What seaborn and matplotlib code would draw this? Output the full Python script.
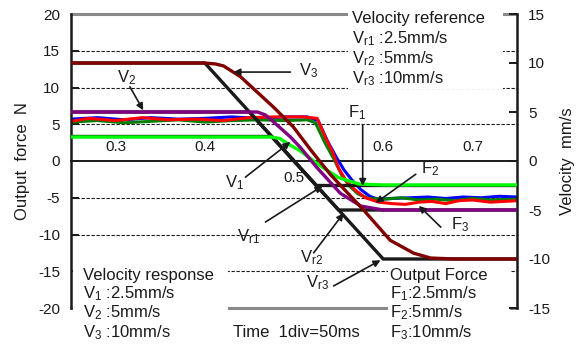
import matplotlib
matplotlib.use("Agg")
import matplotlib.pyplot as plt
import seaborn as sns
from matplotlib.patches import Rectangle

# ---------------------------------------------------------------
# Data
# ---------------------------------------------------------------
# velocity references (mm/s)
t_vr1 = [0.25, 0.475, 0.525, 0.75]
v_vr1 = [2.5, 2.5, -2.5, -2.5]
t_vr2 = [0.25, 0.45, 0.55, 0.75]
v_vr2 = [5.0, 5.0, -5.0, -5.0]
t_vr3 = [0.25, 0.40, 0.60, 0.75]
v_vr3 = [10.0, 10.0, -10.0, -10.0]

# velocity responses (mm/s)
t_v1 = [0.25, 0.474, 0.484, 0.494, 0.506, 0.528, 0.55, 0.573, 0.60, 0.75]
v_v1 = [2.45, 2.45, 2.3, 1.7, 1.1, -0.4, -1.7, -2.35, -2.45, -2.45]
t_v2 = [0.25, 0.459, 0.468, 0.477, 0.496, 0.507, 0.525, 0.552, 0.575, 0.60, 0.75]
v_v2 = [5.0, 5.0, 4.7, 4.0, 2.45, 1.4, -0.6, -3.3, -4.6, -5.0, -5.0]
t_v3 = [0.25, 0.40, 0.412, 0.421, 0.44, 0.477, 0.499, 0.519, 0.541, 0.578,
        0.608, 0.634, 0.653, 0.68, 0.75]
v_v3 = [10.0, 10.0, 9.9, 9.7, 8.6, 5.5, 3.5, 1.1, -1.4, -5.0,
        -8.1, -9.4, -9.9, -10.0, -10.0]

# output force (N)
t_f1 = [0.25, 0.28, 0.31, 0.34, 0.37, 0.40, 0.43, 0.46, 0.49, 0.515, 0.527,
        0.538, 0.548, 0.556, 0.565, 0.575, 0.585, 0.594, 0.61, 0.63, 0.65,
        0.67, 0.69, 0.71, 0.73, 0.75]
f_f1 = [5.7, 5.9, 5.6, 5.9, 5.7, 5.8, 6.0, 5.8, 6.0, 6.0, 5.5,
        2.6, 0.4, -1.2, -2.6, -3.9, -4.8, -5.2, -5.1, -5.0, -4.9,
        -5.1, -4.9, -5.0, -4.8, -4.9]
t_f2 = [0.25, 0.28, 0.31, 0.34, 0.37, 0.40, 0.43, 0.46, 0.49, 0.515, 0.524,
        0.535, 0.545, 0.553, 0.562, 0.572, 0.584, 0.60, 0.62, 0.64, 0.66,
        0.68, 0.70, 0.72, 0.75]
f_f2 = [5.3, 5.5, 5.2, 5.4, 5.6, 5.3, 5.5, 5.6, 5.5, 5.6, 5.2,
        2.4, 0.2, -1.8, -3.4, -4.5, -5.1, -5.2, -5.0, -5.3, -5.2,
        -5.4, -5.1, -5.3, -5.2]
t_f3 = [0.25, 0.27, 0.30, 0.33, 0.36, 0.39, 0.42, 0.45, 0.48, 0.51, 0.526,
        0.536, 0.544, 0.55, 0.558, 0.568, 0.58, 0.595, 0.61, 0.625, 0.64,
        0.655, 0.67, 0.685, 0.70, 0.72, 0.75]
f_f3 = [5.4, 5.8, 5.5, 5.9, 5.6, 5.7, 5.5, 5.9, 6.0, 6.0, 5.8,
        3.0, 1.0, -1.0, -2.6, -3.9, -5.0, -5.6, -5.8, -5.9, -5.6,
        -5.5, -5.8, -5.4, -5.3, -5.6, -5.4]

force_ticks = [-20, -15, -10, -5, 0, 5, 10, 15, 20]
vel_ticks = [-15, -10, -5, 0, 5, 10, 15]
time_ticks = [0.25, 0.30, 0.35, 0.40, 0.45, 0.50, 0.55, 0.60, 0.65, 0.70, 0.75]
time_labels = ["0.3", "0.4", "0.5", "0.6", "0.7"]
grid_levels = [-15, -10, -5, 5, 10, 15]

# ---------------------------------------------------------------
sns.set_theme(style="white")
plt.rcParams["font.family"] = ["Liberation Sans", "DejaVu Sans"]
plt.rcParams["mathtext.fontset"] = "custom"
plt.rcParams["mathtext.rm"] = "Liberation Sans"
plt.rcParams["mathtext.it"] = "Liberation Sans:italic"
plt.rcParams["axes.unicode_minus"] = False

fig = plt.figure(figsize=(5.81, 3.45), dpi=100)
ax = fig.add_axes([71 / 581, 1 - 308 / 345, 446 / 581, 294 / 345])
ax2 = ax.twinx()

ax.set_xlim(0.25, 0.75)
ax.set_ylim(-20, 20)
ax2.set_ylim(-15, 15)

# grid / frame lines
for lv in grid_levels:
    ax.axhline(lv, color="k", lw=0.8, ls=(0, (3, 1.5)), zorder=1)
ax.axhline(20, color="#8a8a8a", lw=2.2, zorder=1.5, clip_on=False)
ax.axhline(-20, color="#8a8a8a", lw=2.2, zorder=1.5, clip_on=False)

# output force curves (left axis)
sns.lineplot(x=t_f1, y=f_f1, ax=ax, color="#0000ff", lw=2.2, sort=False, zorder=3)
sns.lineplot(x=t_f2, y=f_f2, ax=ax, color="#008000", lw=2.2, sort=False, zorder=3)
sns.lineplot(x=t_f3, y=f_f3, ax=ax, color="#ff0000", lw=2.2, sort=False, zorder=3)

# velocity references and responses (right axis)
for tt, vv in [(t_vr1, v_vr1), (t_vr2, v_vr2), (t_vr3, v_vr3)]:
    sns.lineplot(x=tt, y=vv, ax=ax2, color="k", lw=2.4, sort=False, zorder=2)
sns.lineplot(x=t_v1, y=v_v1, ax=ax2, color="#00ff00", lw=2.4, sort=False, zorder=3)
sns.lineplot(x=t_v2, y=v_v2, ax=ax2, color="#800080", lw=2.4, sort=False, zorder=3)
sns.lineplot(x=t_v3, y=v_v3, ax=ax2, color="#800000", lw=2.4, sort=False, zorder=3)

# spines and ticks
ax.spines["top"].set_visible(False)
ax.spines["right"].set_visible(False)
ax.spines["left"].set_color("k")
ax.spines["left"].set_linewidth(1.8)
ax.spines["bottom"].set_position(("data", 0))
ax.spines["bottom"].set_color("k")
ax.spines["bottom"].set_linewidth(1.4)
ax.spines["left"].set_zorder(4)
for s in ["top", "bottom", "left"]:
    ax2.spines[s].set_visible(False)
ax2.spines["right"].set_color("k")
ax2.spines["right"].set_linewidth(1.8)

ax.set_yticks(force_ticks)
ax.set_xticks(time_ticks)
ax.set_xticklabels([])
ax.tick_params(axis="y", direction="in", length=6, width=1.4, labelsize=11,
               pad=8, colors="k")
ax.tick_params(axis="x", direction="inout", length=7, width=1.1, colors="k")
ax2.set_yticks(vel_ticks)
ax2.tick_params(axis="y", direction="in", length=6, width=1.4, labelsize=11,
                pad=8, colors="k")

ax.set_ylabel("Output  force  N", fontsize=12, color="k")
ax.yaxis.set_label_coords(-0.092, 0.5)
ax2.set_ylabel("Velocity  mm/s", fontsize=12, color="k")
ax2.yaxis.set_label_coords(1.096, 0.5)

# time tick labels drawn above the zero line (0.5 sits below it)
for lab in time_labels:
    xv = float(lab)
    yv = -2.3 if lab == "0.5" else 1.9
    ax2.text(xv, yv, lab, transform=ax.transData, ha="center", va="center",
             fontsize=11, color="k", zorder=6)

# white boxes that interrupt the grid behind the legend texts
for x0, y0, w, h in [(0.621, 0.745, 0.348, 0.29),
                     (0.005, -0.14, 0.347, 0.283),
                     (0.711, -0.14, 0.273, 0.283)]:
    ax.add_patch(Rectangle((x0, y0), w, h, transform=ax.transAxes,
                           facecolor="white", edgecolor="none",
                           zorder=2.2, clip_on=False))

fs = 12
tr_lines = ["Velocity reference", "V$_{\\rm r1}$ :2.5mm/s",
            "V$_{\\rm r2}$ :5mm/s", "V$_{\\rm r3}$ :10mm/s"]
bl_lines = ["Velocity response", "V$_{\\rm 1}$ :2.5mm/s",
            "V$_{\\rm 2}$ :5mm/s", "V$_{\\rm 3}$ :10mm/s"]
br_lines = ["Output Force", "F$_{\\rm 1}$:2.5mm/s",
            "F$_{\\rm 2}$:5mm/s", "F$_{\\rm 3}$:10mm/s"]
for txt, yy in zip(tr_lines, [0.983, 0.915, 0.847, 0.779]):
    ax2.text(0.630, yy, txt, transform=ax.transAxes, ha="left", va="center",
             fontsize=fs, color="k", zorder=6)
for txt, yy in zip(bl_lines, [0.112, 0.048, -0.017, -0.085]):
    ax2.text(0.027, yy, txt, transform=ax.transAxes, ha="left", va="center",
             fontsize=fs, color="k", zorder=6, clip_on=False)
for txt, yy in zip(br_lines, [0.112, 0.048, -0.017, -0.085]):
    ax2.text(0.715, yy, txt, transform=ax.transAxes, ha="left", va="center",
             fontsize=fs, color="k", zorder=6, clip_on=False)
ax2.text(0.363, -0.085, "Time  1div=50ms", transform=ax.transAxes,
         ha="left", va="center", fontsize=fs, color="k", clip_on=False)

# curve labels with arrows (coordinates in time / force units)
arrow = dict(arrowstyle="-|>", color="k", lw=1.2, mutation_scale=10,
             shrinkA=0, shrinkB=0)
callouts = [
    ("V$_{\\rm 3}$", (0.506, 12.3), (0.496, 12.1), (0.432, 12.1)),
    ("V$_{\\rm 2}$", (0.302, 11.4), (0.316, 10.1), (0.331, 6.9)),
    ("V$_{\\rm 1}$", (0.423, -2.9), (0.4455, -2.2), (0.496, 2.6)),
    ("V$_{\\rm r1}$", (0.4365, -10.3), (0.468, -8.3), (0.532, -3.4)),
    ("V$_{\\rm r2}$", (0.507, -13.2), (0.522, -12.5), (0.5556, -7.1)),
    ("V$_{\\rm r3}$", (0.513, -16.6), (0.5444, -17.0), (0.597, -13.5)),
    ("F$_{\\rm 1}$", (0.561, 6.6), (0.577, 4.9), (0.577, -3.4)),
    ("F$_{\\rm 2}$", (0.642, -1.0), (0.6365, -1.8), (0.5916, -5.7)),
    ("F$_{\\rm 3}$", (0.676, -8.7), (0.6646, -9.0), (0.640, -6.1)),
]
for lab, pos, tail, tip in callouts:
    ax2.text(pos[0], pos[1], lab, transform=ax.transData, ha="left",
             va="center", fontsize=fs, color="k", zorder=6)
    ax2.annotate("", xy=tip, xytext=tail, xycoords=ax.transData,
                 textcoords=ax.transData, arrowprops=arrow, zorder=6)

fig.savefig("out.png", dpi=100)
